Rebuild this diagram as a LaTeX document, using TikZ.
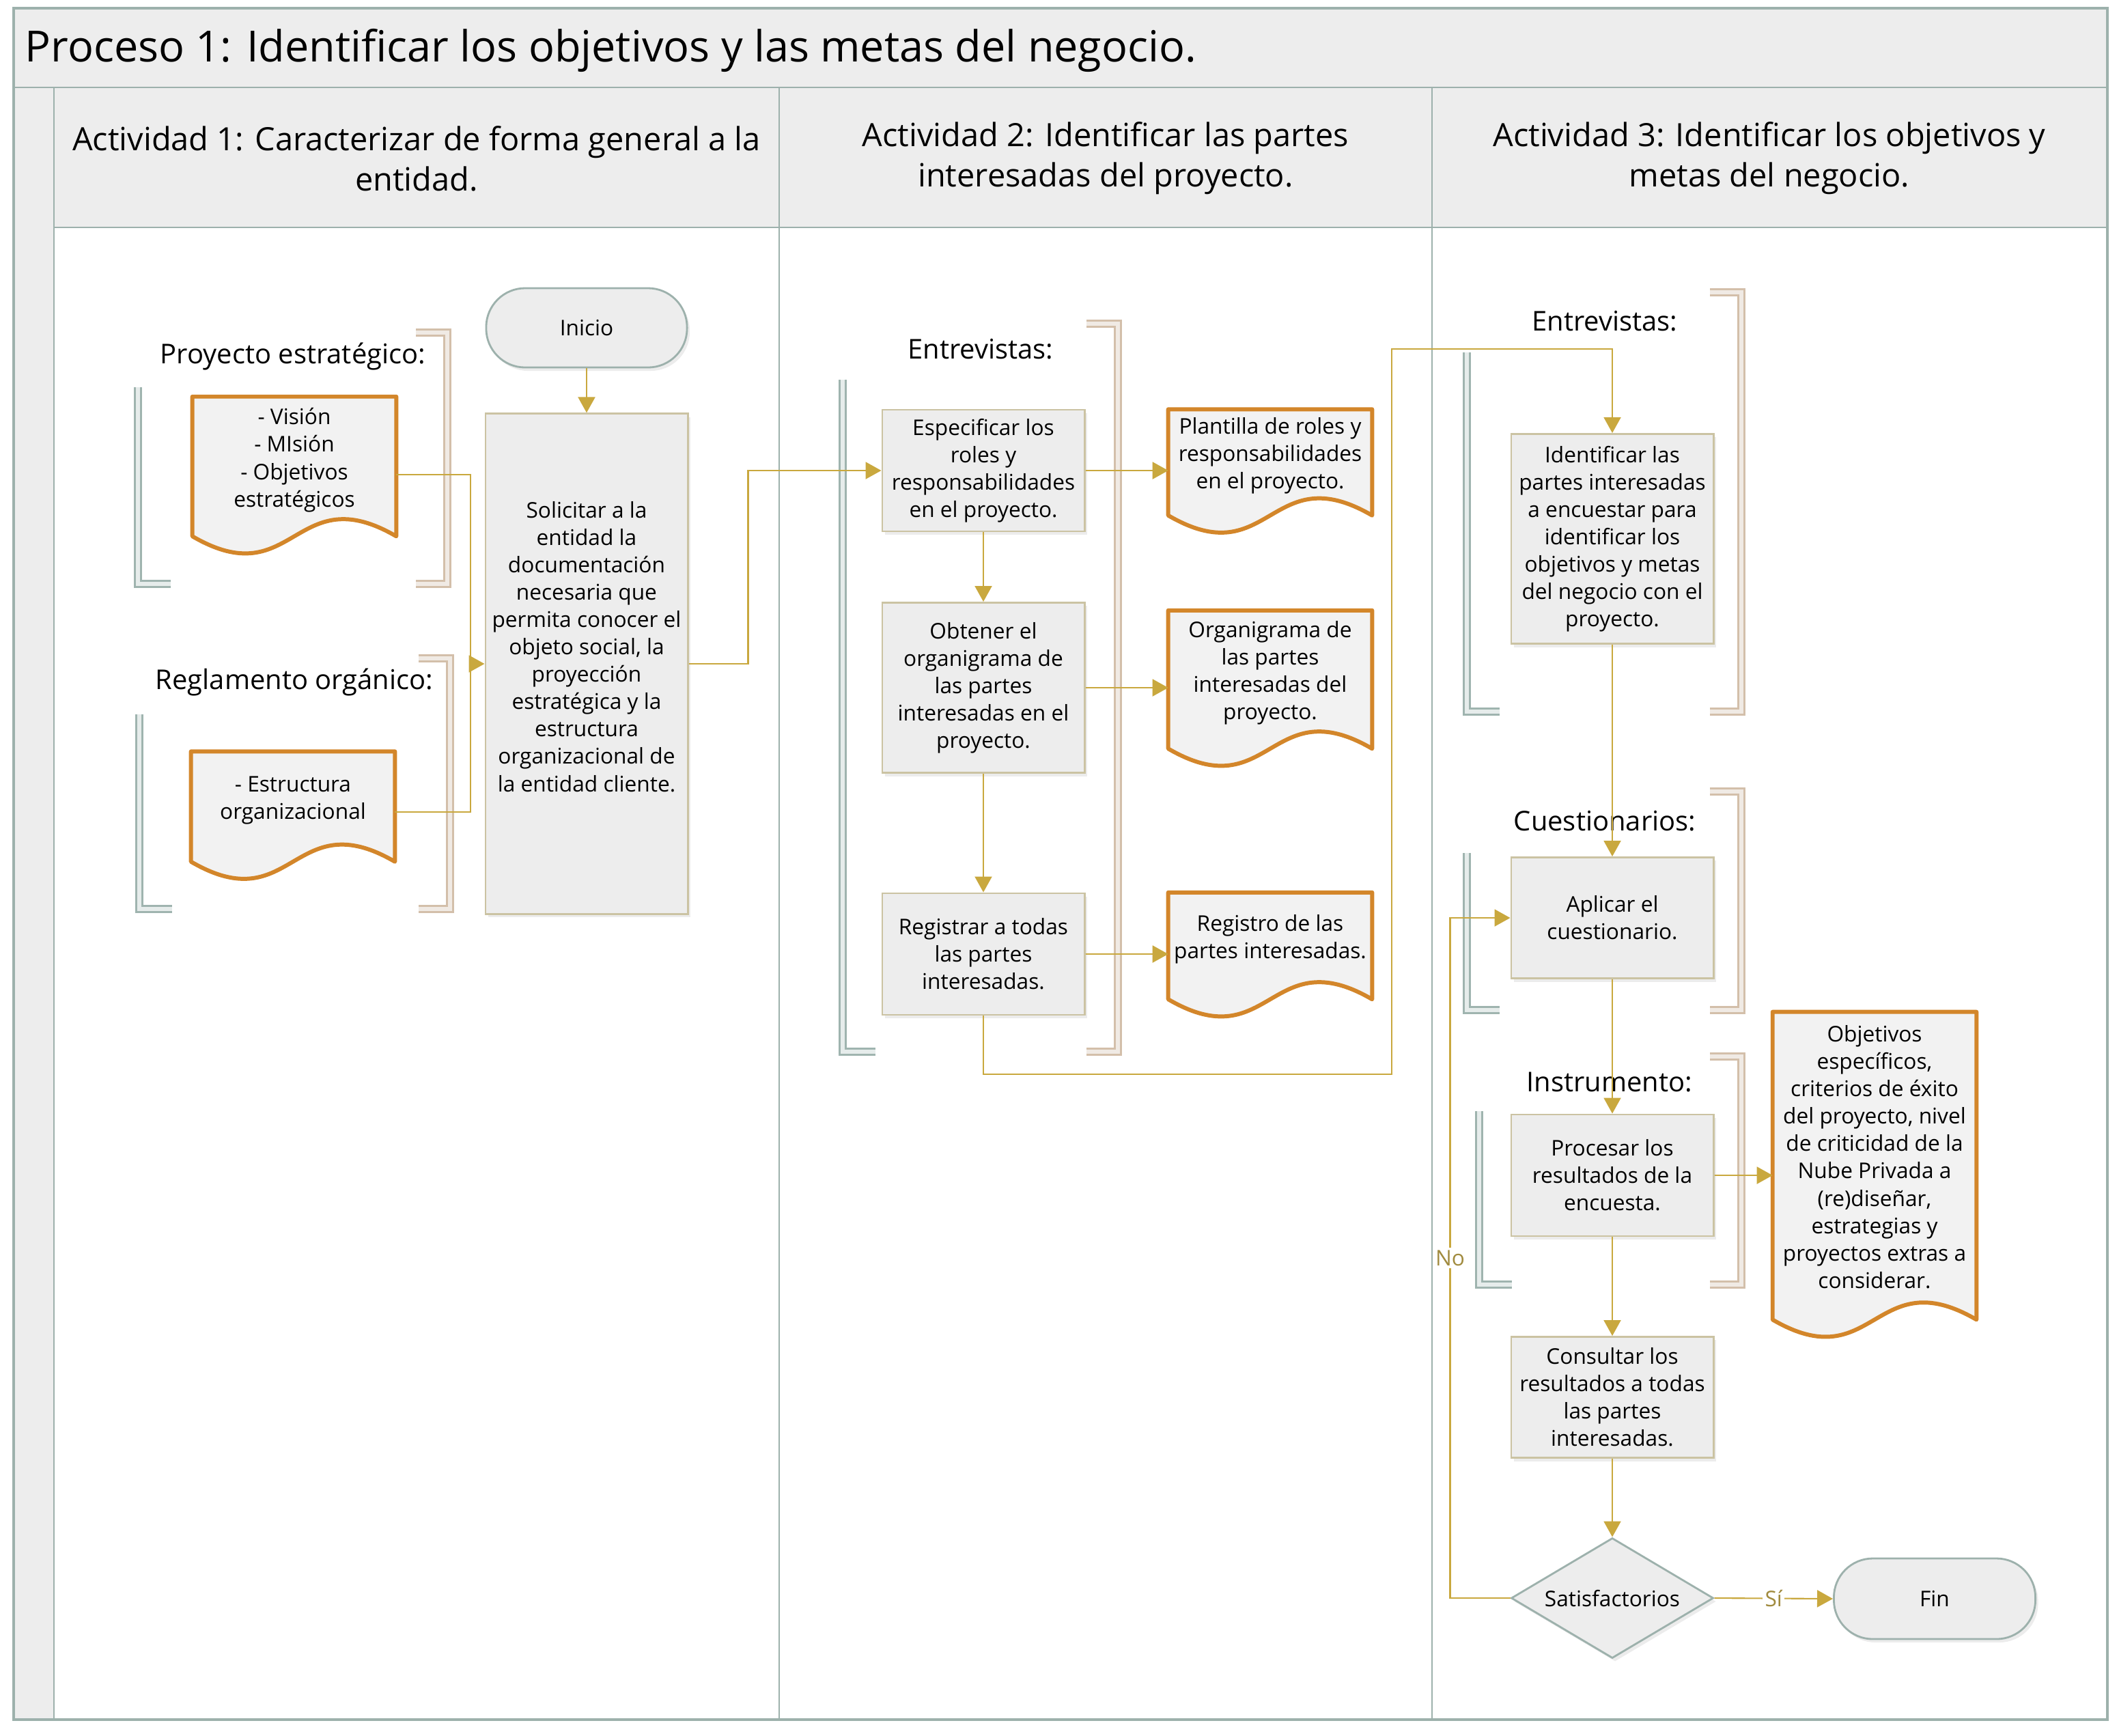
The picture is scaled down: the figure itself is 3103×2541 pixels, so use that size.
\documentclass[tikz,border=0pt]{standalone}
\usepackage{fontspec}
\setmainfont{Open Sans}
\usepackage{xcolor}
\usepackage{tikz}
\usetikzlibrary{shapes,arrows.meta,positioning,calc,shadows}

\definecolor{laneline}{HTML}{9DB1AC}
\definecolor{bandfill}{HTML}{EDEDED}
\definecolor{boxline}{HTML}{CBC3A3}
\definecolor{flowgold}{HTML}{C9A83E}
\definecolor{docorange}{HTML}{D3862A}
\definecolor{docfill}{HTML}{F2F2F2}
\definecolor{brakteal}{HTML}{9FB4AF}
\definecolor{brakteallight}{HTML}{E6ECEB}
\definecolor{brakbeige}{HTML}{D3BFAA}
\definecolor{brakbeigelight}{HTML}{F0EAE4}
\definecolor{labelolive}{HTML}{A18B3F}

\newcommand{\procfont}{\fontsize{17.9}{21}\selectfont}
\newcommand{\lanefont}{\fontsize{13.35}{16.8}\selectfont}
\newcommand{\notefont}{\fontsize{11.35}{13}\selectfont}
\newcommand{\boxfont}{\fontsize{9}{11.4}\selectfont}

\pgfdeclarelayer{background}
\pgfsetlayers{background,main}

\tikzset{
    lane/.style={draw=laneline, line width=0.6pt},
    activity/.style={draw=boxline, line width=0.8pt, fill=bandfill, minimum width=2.96cm,
        align=center, inner sep=2pt, font=\boxfont,
        drop shadow={opacity=0.15, shadow xshift=0.04cm, shadow yshift=-0.05cm}},
    terminal/.style={rectangle, rounded corners=0.57cm, draw=laneline, line width=0.8pt, fill=bandfill,
        minimum width=2.94cm, minimum height=1.16cm, font=\boxfont,
        drop shadow={opacity=0.15, shadow xshift=0.04cm, shadow yshift=-0.05cm}},
    decision/.style={diamond, draw=laneline, line width=0.8pt, fill=bandfill, aspect=1.68,
        minimum width=2.96cm, minimum height=1.76cm, inner sep=0pt, font=\boxfont,
        drop shadow={opacity=0.15, shadow xshift=0.04cm, shadow yshift=-0.05cm}},
    docnode/.style={minimum width=2.97cm, align=center, inner sep=2pt, font=\boxfont, text depth=7.5pt},
    note/.style={font=\notefont},
    leftbrak/.style={draw=brakteal, double=brakteallight, double distance=1.8pt, line width=0.7pt},
    rightbrak/.style={draw=brakbeige, double=brakbeigelight, double distance=1.8pt, line width=0.7pt},
    line/.style={draw=flowgold, line width=0.6pt},
    flow/.style={line, -{Triangle[length=0.23cm, width=0.25cm]}},
    answer/.style={fill=white, text=labelolive, inner sep=1pt, font=\boxfont}
}

% document outline behind a docnode
\newcommand{\docwave}[1]{%
    \begin{pgfonlayer}{background}
        \draw[docorange, line width=1.7pt, fill=docfill, line join=round]
            (#1.north west) -- (#1.south west)
            .. controls ($(#1.south)+(0,87)$) and ($(#1.south)+(0,-87)$) .. (#1.south east)
            -- (#1.north east) -- cycle;
    \end{pgfonlayer}}

\begin{document}
\begin{tikzpicture}[x=0.01cm, y=-0.01cm]
    \useasboundingbox (0,0) rectangle (3103,2541);

    % Swimlane frame
    \draw[lane, fill=bandfill] (20,12) rectangle (3086,128);
    \draw[lane, fill=bandfill] (79,128) rectangle (3086,333);
    \draw[lane, fill=bandfill] (20,128) rectangle (79,2518);
    \draw[lane] (1141,128) -- (1141,2518) (2097,128) -- (2097,2518);
    \draw[lane, line width=1.2pt] (20,12) rectangle (3086,2518);

    \node[anchor=west, inner sep=0pt, font=\procfont] (proc) at (36,74) {Proceso 1: Identificar los objetivos y las metas del negocio.};
    \node[font=\lanefont, align=center] (act1) at (610,232) {Actividad 1: Caracterizar de forma general a la\\entidad.};
    \node[font=\lanefont, align=center] (act2) at (1619,232) {Actividad 2: Identificar las partes\\interesadas del proyecto.};
    \node[font=\lanefont, align=center] (act3) at (2591,232) {Actividad 3: Identificar los objetivos y\\metas del negocio.};

    % Annotation brackets
    \foreach \x/\ya/\yb in {202/567/855, 204/1046/1331, 1234/556/1540, 2148/516/1042, 2148/1249/1479, 2166/1627/1881}
        \draw[leftbrak] (\x,\ya) -- (\x,\yb) -- ++(48,0);
    \foreach \x/\ya/\yb in {655/487/855, 659/964/1331, 1637/474/1540, 2550/428/1042, 2550/1159/1479, 2550/1547/1881}
        \draw[rightbrak] (\x-46,\ya) -- (\x,\ya) -- (\x,\yb) -- ++(-46,0);

    % Activity 1
    \node[note] (lblproy) at (429,522) {Proyecto estratégico:};
    \node[note] (lblregl) at (431,999) {Reglamento orgánico:};
    \node[docnode, minimum height=2.03cm] (vision) at (431,683) {- Visión\\- MIsión\\- Objetivos\\estratégicos};
    \docwave{vision}
    \node[docnode, minimum height=1.60cm] (estructura) at (429,1181) {- Estructura\\organizacional};
    \docwave{estructura}
    \node[terminal] (inicio) at (859,480) {Inicio};
    \node[activity, minimum height=7.32cm, text depth=14.5pt] (solicitar) at (859,972) {Solicitar a la\\entidad la\\documentación\\necesaria que\\permita conocer el\\objeto social, la\\proyección\\estratégica y la\\estructura\\organizacional de\\la entidad cliente.};

    % Activity 2
    \node[note] (lblentr) at (1436,511) {Entrevistas:};
    \node[activity, minimum height=1.78cm] (especificar) at (1440,689) {Especificar los\\roles y\\responsabilidades\\en el proyecto.};
    \node[activity, minimum height=2.49cm] (obtener) at (1440,1007) {Obtener el\\organigrama de\\las partes\\interesadas en el\\proyecto.};
    \node[activity, minimum height=1.78cm] (registrar) at (1440,1397) {Registrar a todas\\las partes\\interesadas.};
    \node[docnode, minimum height=1.54cm] (plantilla) at (1860,677) {Plantilla de roles y\\responsabilidades\\en el proyecto.};
    \docwave{plantilla}
    \node[docnode, minimum height=2.01cm] (organigrama) at (1860,995) {Organigrama de\\las partes\\interesadas del\\proyecto.};
    \docwave{organigrama}
    \node[docnode, minimum height=1.55cm] (registro) at (1860,1385) {Registro de las\\partes interesadas.};
    \docwave{registro}

    % Activity 3
    \node[note] (lblentr2) at (2350,470) {Entrevistas:};
    \node[note] (lblcuest) at (2350,1202) {Cuestionarios:};
    \node[note] (lblinst) at (2357,1584) {Instrumento:};
    \node[activity, minimum height=3.07cm] (identificar) at (2361,789) {Identificar las\\partes interesadas\\a encuestar para\\identificar los\\objetivos y metas\\del negocio con el\\proyecto.};
    \node[activity, minimum height=1.77cm] (aplicar) at (2361,1344) {Aplicar el\\cuestionario.};
    \node[activity, minimum height=1.78cm] (procesar) at (2361,1721) {Procesar los\\resultados de la\\encuesta.};
    \node[activity, minimum height=1.77cm] (consultar) at (2361,2046) {Consultar los\\resultados a todas\\las partes\\interesadas.};
    \node[decision] (satisf) at (2361,2340) {Satisfactorios};
    \node[terminal, minimum width=2.95cm, minimum height=1.18cm] (fin) at (2833,2341) {Fin};
    \node[docnode, minimum height=4.49cm] (objetivos) at (2745,1707) {Objetivos\\específicos,\\criterios de éxito\\del proyecto, nivel\\de criticidad de la\\Nube Privada a\\(re)diseñar,\\estrategias y\\proyectos extras a\\considerar.};
    \docwave{objetivos}

    % Connectors
    \coordinate (join1) at (689,972);
    \draw[line] ([yshift=-0.12cm]vision.east) -| (join1);
    \draw[line] ([yshift=-0.08cm]estructura.east) -| (join1);
    \draw[flow] (join1) -- (solicitar.west);
    \draw[flow] (inicio) -- (solicitar);
    \draw[flow] (solicitar.east) -- ++(87,0) |- (especificar.west);
    \draw[flow] (especificar) -- (obtener);
    \draw[flow] (obtener) -- (registrar);
    \draw[flow] (especificar.east) -- (especificar.east -| plantilla.west);
    \draw[flow] (obtener.east) -- (obtener.east -| organigrama.west);
    \draw[flow] (registrar.east) -- (registrar.east -| registro.west);
    \coordinate (turn1) at (2038,1573);
    \coordinate (turn2) at (2038,511);
    \draw[flow] (registrar.south) |- (turn1) -- (turn2) -| (identificar.north);
    \draw[flow] (identificar) -- (aplicar);
    \draw[flow] (aplicar) -- (procesar);
    \draw[flow] (procesar.east) -- (procesar.east -| objetivos.west);
    \draw[flow] (procesar) -- (consultar);
    \draw[flow] (consultar) -- (satisf);
    \draw[flow] (satisf.east) -- node[answer] {Sí} (fin.west);
    \draw[flow] (satisf.west) -- ++(-88,0) |- node[pos=0.25, answer] {No} (aplicar.west);
\end{tikzpicture}
\end{document}
